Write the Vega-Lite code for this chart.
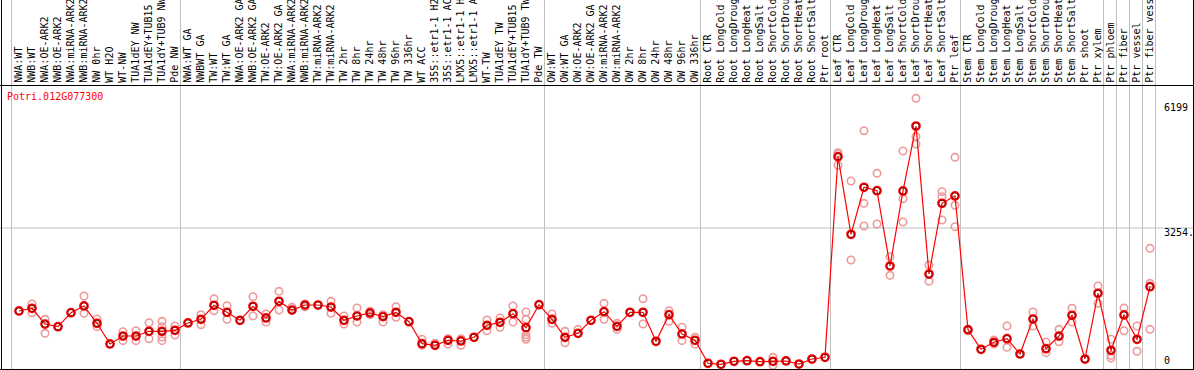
{
  "$schema": "https://vega.github.io/schema/vega-lite/v6.json",
  "width": 1194,
  "height": 370,
  "autosize": "none",
  "padding": 0,
  "background": "white",
  "config": {"view": {"stroke": null}},
  "datasets": {
    "means": [
      {"idx":1,"label":"NWA:WT","value":1297},
      {"idx":2,"label":"NWB:WT","value":1361},
      {"idx":3,"label":"NWA:OE-ARK2","value":990},
      {"idx":4,"label":"NWB:OE-ARK2","value":927},
      {"idx":5,"label":"NWA:miRNA-ARK2","value":1257},
      {"idx":6,"label":"NWB:miRNA-ARK2","value":1415},
      {"idx":7,"label":"NW 0hr","value":1007},
      {"idx":8,"label":"WT H2O","value":519},
      {"idx":9,"label":"WT-NW","value":707},
      {"idx":10,"label":"TUA1dEY NW","value":707},
      {"idx":11,"label":"TUA1dEY+TUB15","value":818},
      {"idx":12,"label":"TUA1dY+TUB9 NW","value":818},
      {"idx":13,"label":"Pde NW","value":842},
      {"idx":14,"label":"NWA:WT GA","value":1014},
      {"idx":15,"label":"NWBWT GA","value":1101},
      {"idx":16,"label":"TW:WT","value":1431},
      {"idx":17,"label":"TW:WT GA","value":1266},
      {"idx":18,"label":"NWA:OE-ARK2 GA","value":1078},
      {"idx":19,"label":"NWB:OE-ARK2 GA","value":1408},
      {"idx":20,"label":"TW:OE-ARK2","value":1132},
      {"idx":21,"label":"TW:OE-ARK2 GA","value":1526},
      {"idx":22,"label":"NWA:miRNA-ARK2","value":1320},
      {"idx":23,"label":"NWB:miRNA-ARK2","value":1438},
      {"idx":24,"label":"TW:miRNA-ARK2","value":1438},
      {"idx":25,"label":"TW:miRNA-ARK2","value":1391},
      {"idx":26,"label":"TW 2hr","value":1078},
      {"idx":27,"label":"TW 8hr","value":1179},
      {"idx":28,"label":"TW 24hr","value":1250},
      {"idx":29,"label":"TW 48hr","value":1163},
      {"idx":30,"label":"TW 96hr","value":1266},
      {"idx":31,"label":"TW 336hr","value":1045},
      {"idx":32,"label":"WT ACC","value":526},
      {"idx":33,"label":"35S::etr1-1 H2","value":488},
      {"idx":34,"label":"35S::etr1-1 AC","value":606},
      {"idx":35,"label":"LMX5::etr1-1 H","value":590},
      {"idx":36,"label":"LMX5::etr1-1 A","value":677},
      {"idx":37,"label":"WT-TW","value":960},
      {"idx":38,"label":"TUA1dEY TW","value":1030},
      {"idx":39,"label":"TUA1dEY+TUB15","value":1233},
      {"idx":40,"label":"TUA1dY+TUB9 TW","value":903},
      {"idx":41,"label":"Pde TW","value":1445},
      {"idx":42,"label":"OW:WT","value":1101},
      {"idx":43,"label":"OW:WT GA","value":677},
      {"idx":44,"label":"OW:OE-ARK2","value":771},
      {"idx":45,"label":"OW:OE-ARK2 GA","value":1078},
      {"idx":46,"label":"OW:miRNA-ARK2","value":1280},
      {"idx":47,"label":"OW:miRNA-ARK2","value":936},
      {"idx":48,"label":"OW 2hr","value":1266},
      {"idx":49,"label":"OW 8hr","value":1266},
      {"idx":50,"label":"OW 24hr","value":582},
      {"idx":51,"label":"OW 48hr","value":1210},
      {"idx":52,"label":"OW 96hr","value":755},
      {"idx":53,"label":"OW 336hr","value":606},
      {"idx":54,"label":"Root CTR","value":64},
      {"idx":55,"label":"Root LongCold","value":40},
      {"idx":56,"label":"Root LongDroug","value":111},
      {"idx":57,"label":"Root LongHeat","value":125},
      {"idx":58,"label":"Root LongSalt","value":101},
      {"idx":59,"label":"Root ShortCold","value":111},
      {"idx":60,"label":"Root ShortDrou","value":118},
      {"idx":61,"label":"Root ShortHeat","value":47},
      {"idx":62,"label":"Root ShortSalt","value":165},
      {"idx":63,"label":"Ptr root","value":205},
      {"idx":64,"label":"Leaf CTR","value":4935},
      {"idx":65,"label":"Leaf LongCold","value":3105},
      {"idx":66,"label":"Leaf LongDroug","value":4214},
      {"idx":67,"label":"Leaf LongHeat","value":4134},
      {"idx":68,"label":"Leaf LongSalt","value":2358},
      {"idx":69,"label":"Leaf ShortCold","value":4127},
      {"idx":70,"label":"Leaf ShortDrou","value":5659},
      {"idx":71,"label":"Leaf ShortHeat","value":2169},
      {"idx":72,"label":"Leaf ShortSalt","value":3836},
      {"idx":73,"label":"Ptr leaf","value":4009},
      {"idx":74,"label":"Stem CTR","value":856},
      {"idx":75,"label":"Stem LongCold","value":394},
      {"idx":76,"label":"Stem LongDroug","value":559},
      {"idx":77,"label":"Stem LongHeat","value":644},
      {"idx":78,"label":"Stem LongSalt","value":283},
      {"idx":79,"label":"Stem ShortCold","value":1108},
      {"idx":80,"label":"Stem ShortDrou","value":408},
      {"idx":81,"label":"Stem ShortHeat","value":707},
      {"idx":82,"label":"Stem ShortSalt","value":1196},
      {"idx":83,"label":"Ptr shoot","value":165},
      {"idx":84,"label":"Ptr xylem","value":1714},
      {"idx":85,"label":"Ptr phloem","value":370},
      {"idx":86,"label":"Ptr fiber","value":1203},
      {"idx":87,"label":"Ptr vessel","value":630},
      {"idx":88,"label":"Ptr fiber vess","value":1870}
    ],
    "reps": [
      {"idx":2,"value":1462},{"idx":2,"value":1257},
      {"idx":3,"value":1101},{"idx":3,"value":771},
      {"idx":6,"value":1651},{"idx":6,"value":1243},
      {"idx":7,"value":1108},{"idx":7,"value":927},
      {"idx":9,"value":809},{"idx":9,"value":597},
      {"idx":10,"value":832},{"idx":10,"value":597},
      {"idx":11,"value":1021},{"idx":11,"value":644},
      {"idx":12,"value":1054},{"idx":12,"value":927},{"idx":12,"value":597},{"idx":12,"value":684},
      {"idx":13,"value":943},{"idx":13,"value":731},
      {"idx":15,"value":1210},{"idx":15,"value":974},
      {"idx":16,"value":1587},{"idx":16,"value":1304},
      {"idx":17,"value":1422},{"idx":17,"value":1101},
      {"idx":19,"value":1634},{"idx":19,"value":1179},
      {"idx":20,"value":1226},{"idx":20,"value":1038},
      {"idx":21,"value":1761},{"idx":21,"value":1320},
      {"idx":22,"value":1384},
      {"idx":23,"value":1462},{"idx":23,"value":1398},
      {"idx":25,"value":1526},{"idx":25,"value":1243},
      {"idx":26,"value":1179},{"idx":26,"value":990},
      {"idx":27,"value":1368},{"idx":27,"value":1038},
      {"idx":28,"value":1290},{"idx":28,"value":1210},
      {"idx":29,"value":1210},{"idx":29,"value":1038},
      {"idx":30,"value":1398},{"idx":30,"value":1148},
      {"idx":32,"value":630},{"idx":32,"value":488},
      {"idx":33,"value":535},
      {"idx":34,"value":644},{"idx":34,"value":519},
      {"idx":35,"value":644},{"idx":35,"value":488},
      {"idx":37,"value":1085},{"idx":37,"value":832},
      {"idx":38,"value":1132},{"idx":38,"value":913},
      {"idx":39,"value":1415},{"idx":39,"value":1038},
      {"idx":40,"value":1273},{"idx":40,"value":1101},{"idx":40,"value":738},{"idx":40,"value":677},{"idx":40,"value":630},
      {"idx":42,"value":1226},{"idx":42,"value":1007},
      {"idx":43,"value":818},{"idx":43,"value":549},
      {"idx":44,"value":865},
      {"idx":46,"value":1478},{"idx":46,"value":1101},
      {"idx":47,"value":1007},{"idx":47,"value":865},
      {"idx":49,"value":1587},{"idx":49,"value":990},
      {"idx":51,"value":1304},{"idx":51,"value":1054},
      {"idx":52,"value":913},{"idx":52,"value":597},
      {"idx":53,"value":677},{"idx":53,"value":519},
      {"idx":59,"value":205},{"idx":59,"value":10},
      {"idx":64,"value":5030},{"idx":64,"value":4733},{"idx":64,"value":5000},
      {"idx":65,"value":4362},{"idx":65,"value":2499},
      {"idx":66,"value":5548},{"idx":66,"value":3836},{"idx":66,"value":3301},
      {"idx":67,"value":4544},{"idx":67,"value":3348},
      {"idx":68,"value":2577},{"idx":68,"value":2139},
      {"idx":69,"value":5070},{"idx":69,"value":3945},{"idx":69,"value":3396},
      {"idx":70,"value":6312},{"idx":70,"value":5407},{"idx":70,"value":5235},
      {"idx":71,"value":2382},{"idx":71,"value":1997},
      {"idx":72,"value":4110},{"idx":72,"value":3992},{"idx":72,"value":3443},
      {"idx":73,"value":4921},{"idx":73,"value":3789},{"idx":73,"value":3285},
      {"idx":74,"value":832},
      {"idx":76,"value":613},{"idx":76,"value":519},
      {"idx":77,"value":943},{"idx":77,"value":441},
      {"idx":79,"value":1273},{"idx":79,"value":943},
      {"idx":80,"value":566},{"idx":80,"value":314},
      {"idx":81,"value":865},{"idx":81,"value":573},
      {"idx":82,"value":1361},{"idx":82,"value":1038},
      {"idx":84,"value":1886},{"idx":84,"value":1478},
      {"idx":85,"value":630},{"idx":85,"value":252},{"idx":85,"value":189},
      {"idx":86,"value":1368},{"idx":86,"value":832},
      {"idx":87,"value":943},{"idx":87,"value":347},
      {"idx":88,"value":1950},{"idx":88,"value":865},{"idx":88,"value":2775}
    ],
    "groups": [
      {"idx":1},{"idx":14},{"idx":42},{"idx":54},{"idx":64},{"idx":74},
      {"idx":85},{"idx":86},{"idx":87},{"idx":88},{"idx":89}
    ],
    "ylabels": [
      {"value":6199,"text":"6199"},
      {"value":3254,"text":"3254."}
    ],
    "ylabel0": [
      {"value":0,"text":"0"}
    ],
    "gene": [
      {"text":"Potri.012G077300"}
    ]
  },
  "encoding": {
    "x": {"type":"quantitative","scale":{"domain":[-0.4615,91.3846],"nice":false,"zero":false},"axis":null},
    "y": {"type":"quantitative","scale":{"domain":[-94.32,8630.2],"nice":false,"zero":false},"axis":null}
  },
  "layer": [
    {
      "data": {"name":"groups"},
      "mark": {"type":"rule","color":"#c0c0c0","strokeWidth":1,"xOffset":-7.5},
      "encoding": {"x":{"field":"idx","type":"quantitative"}}
    },
    {
      "data": {"name":"gene"},
      "mark": {"type":"rule","color":"#c0c0c0","strokeWidth":1},
      "encoding": {"y":{"datum":3254,"type":"quantitative"}}
    },
    {
      "data": {"name":"reps"},
      "mark": {"type":"point","shape":"circle","filled":false,"size":55,"stroke":"#ec9a9a","strokeWidth":1.6,"opacity":1},
      "encoding": {"x":{"field":"idx","type":"quantitative"},"y":{"field":"value","type":"quantitative"}}
    },
    {
      "data": {"name":"means"},
      "mark": {"type":"line","color":"#ff0000","strokeWidth":1.2},
      "encoding": {"x":{"field":"idx","type":"quantitative"},"y":{"field":"value","type":"quantitative"}}
    },
    {
      "data": {"name":"means"},
      "mark": {"type":"point","shape":"circle","filled":false,"size":60,"stroke":"#ff0000","strokeWidth":2,"opacity":1},
      "encoding": {"x":{"field":"idx","type":"quantitative"},"y":{"field":"value","type":"quantitative"}}
    },
    {
      "data": {"name":"means"},
      "mark": {"type":"point","shape":"circle","filled":false,"size":40,"stroke":"#700000","strokeWidth":0.9,"opacity":1},
      "encoding": {"x":{"field":"idx","type":"quantitative"},"y":{"field":"value","type":"quantitative"}}
    },
    {
      "data": {"name":"means"},
      "mark": {"type":"text","angle":270,"align":"left","baseline":"middle","font":"DejaVu Sans Mono","fontSize":10,"color":"#000000"},
      "encoding": {"x":{"field":"idx","type":"quantitative"},"y":{"datum":6680,"type":"quantitative"},"text":{"field":"label"}}
    },
    {
      "data": {"name":"ylabels"},
      "mark": {"type":"text","align":"left","baseline":"top","font":"DejaVu Sans Mono","fontSize":10,"color":"#000000"},
      "encoding": {"x":{"datum":89.08,"type":"quantitative"},"y":{"field":"value","type":"quantitative"},"text":{"field":"text"}}
    },
    {
      "data": {"name":"ylabel0"},
      "mark": {"type":"text","align":"left","baseline":"bottom","font":"DejaVu Sans Mono","fontSize":10,"color":"#000000"},
      "encoding": {"x":{"datum":89.08,"type":"quantitative"},"y":{"field":"value","type":"quantitative"},"text":{"field":"text"}}
    },
    {
      "data": {"name":"gene"},
      "mark": {"type":"text","align":"left","baseline":"top","font":"DejaVu Sans Mono","fontSize":10,"color":"#ff0000"},
      "encoding": {"x":{"datum":0.077,"type":"quantitative"},"y":{"datum":6461,"type":"quantitative"},"text":{"field":"text"}}
    },
    {
      "data": {"name":"gene"},
      "mark": {"type":"rule","color":"#000000","strokeWidth":1},
      "encoding": {"y":{"datum":6614,"type":"quantitative"}}
    },
    {
      "data": {"name":"gene"},
      "mark": {"type":"rule","color":"#000000","strokeWidth":1},
      "encoding": {"y":{"datum":-82.5,"type":"quantitative"}}
    },
    {
      "data": {"name":"gene"},
      "mark": {"type":"rule","color":"#000000","strokeWidth":1},
      "encoding": {"x":{"datum":-0.3462,"type":"quantitative"}}
    },
    {
      "data": {"name":"gene"},
      "mark": {"type":"rule","color":"#000000","strokeWidth":1},
      "encoding": {"x":{"datum":91.346,"type":"quantitative"}}
    }
  ]
}
